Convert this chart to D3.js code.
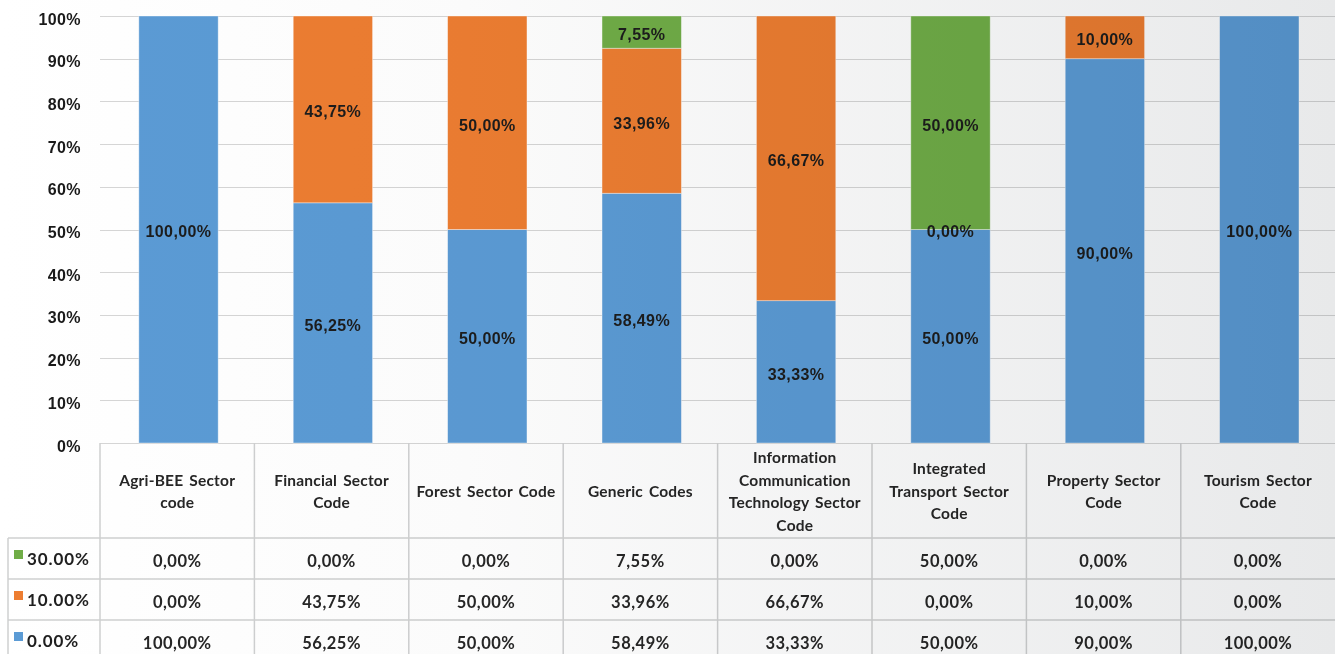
<!DOCTYPE html>
<html>
<head>
<meta charset="utf-8">
<script src="https://cdn.jsdelivr.net/npm/d3@7"></script>
<style>
  body { margin: 0; background: #fff; }
  svg { display: block; }
</style>
</head>
<body>
<script>
// categories and their header line breaks in the data table
const categories = ['Agri-BEE Sector code', 'Financial Sector Code', 'Forest Sector Code', 'Generic Codes',
  'Information Communication Technology Sector Code', 'Integrated Transport Sector Code',
  'Property Sector Code', 'Tourism Sector Code'];
const categoryLines = [
  ['Agri-BEE Sector', 'code'],
  ['Financial Sector', 'Code'],
  ['Forest Sector Code'],
  ['Generic Codes'],
  ['Information', 'Communication', 'Technology Sector', 'Code'],
  ['Integrated', 'Transport Sector', 'Code'],
  ['Property Sector', 'Code'],
  ['Tourism Sector', 'Code']
];

// series (bottom to top in the stack)
const seriesNames = ['0.00%', '10.00%', '30.00%'];
const blueValues = [100, 56.25, 50, 58.49, 33.33, 50, 90, 100];
const orangeValues = [0, 43.75, 50, 33.96, 66.67, 0, 10, 0];
const greenValues = [0, 0, 0, 7.55, 0, 50, 0, 0];
const seriesColors = ['#5b9bd5', '#ed7d31', '#70ad47'];

// zero segments that still carry a label on the chart
const zeroLabels = [['Integrated Transport Sector Code', '10.00%']];

const yTicks = [0, 10, 20, 30, 40, 50, 60, 70, 80, 90, 100];

const width = 1335;
const height = 654;
const plotLeft = 100;
const plotTop = 16;
const plotBottom = 443;
const headerBottom = 538;
const rowH = 41;
const legendLeft = 8;
const step = 154.4;

const seriesValues = [blueValues, orangeValues, greenValues];
const rows = categories.map((c, i) => {
  const r = { cat: c };
  seriesNames.forEach((s, k) => r[s] = seriesValues[k][i]);
  return r;
});

const stack = d3.stack().keys(seriesNames);
const stacked = stack(rows);

const fmt = d3.formatLocale({ decimal: ',', thousands: '.', grouping: [3], currency: ['', '%'] }).format('.2f');
const pct = v => fmt(v) + '%';

const x = d3.scaleBand()
  .domain(categories)
  .range([plotLeft + 1.3, plotLeft + 1.3 + step * categories.length])
  .paddingInner(0.486)
  .paddingOuter(0.243);

const y = d3.scaleLinear()
  .domain([0, 100])
  .range([plotBottom, plotTop]);

const svg = d3.select('body')
  .append('svg')
  .attr('width', width)
  .attr('height', height);

const defs = svg.append('defs');
const grad = defs.append('linearGradient').attr('id', 'shade').attr('x1', 0).attr('x2', 1).attr('y1', 0).attr('y2', 0);
grad.append('stop').attr('offset', '0%').attr('stop-color', '#ffffff');
grad.append('stop').attr('offset', '35%').attr('stop-color', '#fbfbfb');
grad.append('stop').attr('offset', '100%').attr('stop-color', '#e8e9ea');

// gridlines
svg.append('g')
  .selectAll('line')
  .data(yTicks)
  .enter()
  .append('line')
  .attr('x1', plotLeft)
  .attr('x2', width)
  .attr('y1', d => Math.round(y(d)) + 0.5)
  .attr('y2', d => Math.round(y(d)) + 0.5)
  .attr('stroke', '#d6d6d6')
  .attr('stroke-width', 1.2);

// y axis labels
const yAxis = d3.axisLeft(y).tickValues(yTicks).tickFormat(d => d + '%').tickSize(0).tickPadding(0);
const yg = svg.append('g')
  .attr('transform', 'translate(81,0)')
  .call(yAxis);
yg.select('.domain').remove();
yg.selectAll('text')
  .attr('dy', '0.5em')
  .style('font-family', '"Liberation Sans", Arial, sans-serif')
  .style('font-weight', 'bold')
  .style('font-size', '16px')
  .style('letter-spacing', '0.4px')
  .attr('fill', '#1a1a1a');

// bars
const layers = svg.append('g')
  .selectAll('g')
  .data(stacked)
  .enter()
  .append('g')
  .attr('fill', (d, i) => seriesColors[i]);

layers.selectAll('rect')
  .data(d => d)
  .enter()
  .append('rect')
  .attr('x', d => x(d.data.cat))
  .attr('y', d => y(d[1]))
  .attr('width', x.bandwidth())
  .attr('height', d => y(d[0]) - y(d[1]))
  .attr('stroke', '#ffffff')
  .attr('stroke-opacity', 0.5)
  .attr('stroke-width', 0.8);

// bar labels
const isZeroLabel = (cat, key) => zeroLabels.some(z => z[0] === cat && z[1] === key);
stacked.forEach(layer => {
  const key = layer.key;
  svg.append('g')
    .selectAll('text')
    .data(layer.filter(d => (d[1] - d[0]) > 0 || isZeroLabel(d.data.cat, key)))
    .enter()
    .append('text')
    .attr('x', d => x(d.data.cat) + x.bandwidth() / 2)
    .attr('y', d => y((d[0] + d[1]) / 2) + 2)
    .attr('dy', '0.36em')
    .attr('text-anchor', 'middle')
    .style('font-family', '"Liberation Sans", Arial, sans-serif')
    .style('font-weight', 'bold')
    .style('font-size', '16px')
    .style('letter-spacing', '0.4px')
    .attr('fill', '#1c1c1c')
    .text(d => pct(d.data[key]));
});

// data table
const table = svg.append('g');
const lineColor = '#cfd0d1';
const rowOrder = seriesNames.slice().reverse();
const rowTop = i => headerBottom + i * rowH;

// vertical lines
categories.forEach((c, i) => {
  const left = plotLeft + i * step;
  table.append('line')
    .attr('x1', left).attr('x2', left)
    .attr('y1', plotBottom).attr('y2', height)
    .attr('stroke', lineColor).attr('stroke-width', 1.5);
});
table.append('line')
  .attr('x1', legendLeft).attr('x2', legendLeft)
  .attr('y1', headerBottom).attr('y2', height)
  .attr('stroke', lineColor).attr('stroke-width', 1.5);

// horizontal lines
[0, 1, 2].forEach(i => {
  table.append('line')
    .attr('x1', legendLeft).attr('x2', width)
    .attr('y1', rowTop(i)).attr('y2', rowTop(i))
    .attr('stroke', lineColor).attr('stroke-width', 1.5);
});

const tableFont = 'Lato, "Open Sans", sans-serif';

// header text
categories.forEach((c, i) => {
  const cx = plotLeft + i * step + step / 2;
  const lines = categoryLines[i];
  const lh = 22.5;
  const cy = (plotBottom + headerBottom) / 2 + 1;
  const t = table.append('text')
    .attr('text-anchor', 'middle')
    .style('font-family', tableFont)
    .style('font-weight', 'bold')
    .style('font-size', '15.5px')
    .style('letter-spacing', '0.2px')
    .style('word-spacing', '2px')
    .attr('fill', '#262626');
  lines.forEach((l, j) => {
    t.append('tspan')
      .attr('x', cx)
      .attr('y', cy + (j - (lines.length - 1) / 2) * lh)
      .attr('dy', '0.35em')
      .text(l);
  });
});

// rows
rowOrder.forEach((s, r) => {
  const k = seriesNames.indexOf(s);
  const cy = rowTop(r) + rowH / 2;
  table.append('rect')
    .attr('x', 14).attr('y', cy - 8.5)
    .attr('width', 9).attr('height', 9)
    .attr('fill', seriesColors[k]);
  table.append('text')
    .attr('x', 27).attr('y', cy + 1)
    .attr('dy', '0.35em')
    .style('font-family', tableFont)
    .style('font-weight', 'bold')
    .style('font-size', '17px')
    .style('letter-spacing', '0.9px')
    .attr('fill', '#1f1f1f')
    .text(s);
  table.append('g')
    .selectAll('text')
    .data(rows)
    .enter()
    .append('text')
    .attr('x', (d, i) => plotLeft + i * step + step / 2)
    .attr('y', cy + 3)
    .attr('dy', '0.35em')
    .attr('text-anchor', 'middle')
    .style('font-family', tableFont)
    .style('font-weight', 'bold')
    .style('font-size', '16.5px')
    .style('letter-spacing', '0.5px')
    .attr('fill', '#262626')
    .text(d => pct(d[s]));
});

// background shading from white to light grey, applied over everything
svg.append('rect')
  .attr('width', width)
  .attr('height', height)
  .attr('fill', 'url(#shade)')
  .style('mix-blend-mode', 'multiply')
  .style('pointer-events', 'none');
</script>
</body>
</html>
